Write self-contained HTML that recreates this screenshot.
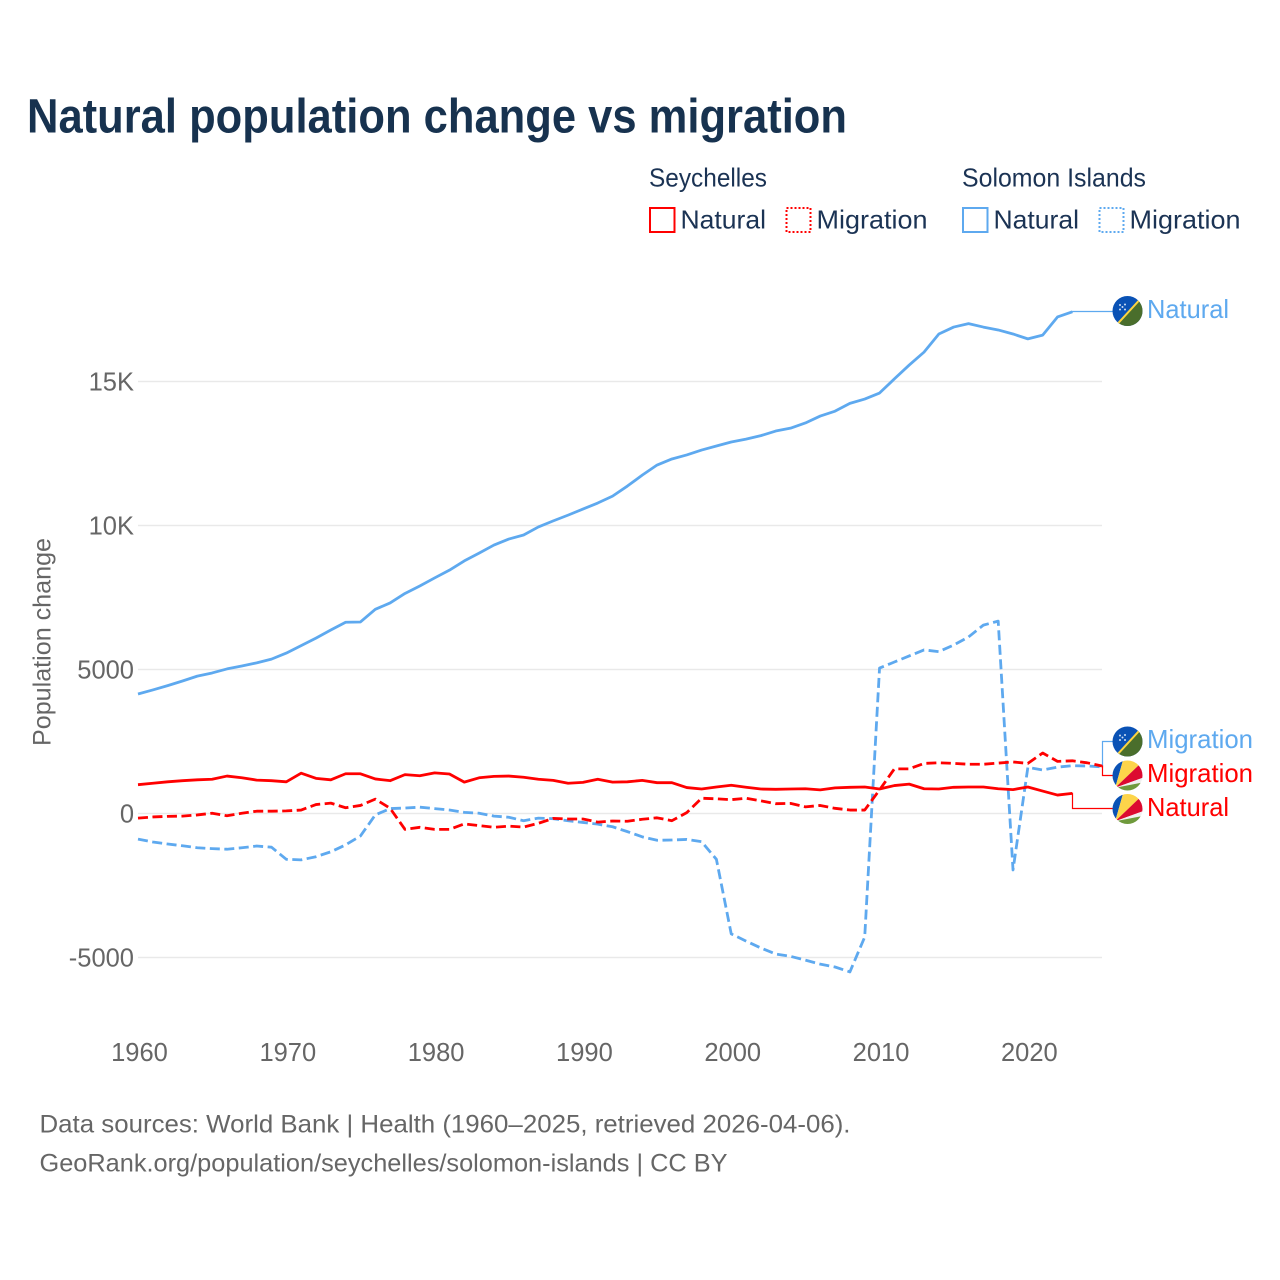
<!DOCTYPE html>
<html lang="en">
<head>
<meta charset="utf-8">
<title>Natural population change vs migration</title>
<style>
html,body{margin:0;padding:0;background:#fff;}
svg{display:block;font-family:"Liberation Sans",sans-serif;}
</style>
</head>
<body>
<svg id="chart" xmlns="http://www.w3.org/2000/svg" width="1280" height="1280" viewBox="0 0 1280 1280">
  <defs>
    <clipPath id="flag-clip-a"><circle cx="0" cy="0" r="15"/></clipPath>
  </defs>
  <text x="27" y="132.5" font-size="48" font-weight="700" fill="#17324f" textLength="820" lengthAdjust="spacingAndGlyphs">Natural population change vs migration</text>

  <g font-size="26" fill="#1b3354">
    <text x="649" y="186.5" textLength="118" lengthAdjust="spacingAndGlyphs">Seychelles</text>
    <text x="962" y="186.5" textLength="184" lengthAdjust="spacingAndGlyphs">Solomon Islands</text>
    <g>
      <rect x="650" y="208" width="24.5" height="24" fill="none" stroke="#ff0000" stroke-width="2"/>
      <text x="680.5" y="228.5" textLength="85.5" lengthAdjust="spacingAndGlyphs">Natural</text>
    </g>
    <g>
      <rect x="786.5" y="208" width="24" height="24" fill="none" stroke="#ff0000" stroke-width="2" stroke-dasharray="2 2"/>
      <text x="816.5" y="228.5" textLength="111" lengthAdjust="spacingAndGlyphs">Migration</text>
    </g>
    <g>
      <rect x="963" y="208" width="24.5" height="24" fill="none" stroke="#5ea9ef" stroke-width="2"/>
      <text x="993.5" y="228.5" textLength="85.5" lengthAdjust="spacingAndGlyphs">Natural</text>
    </g>
    <g>
      <rect x="1099.5" y="208" width="24" height="24" fill="none" stroke="#5ea9ef" stroke-width="2" stroke-dasharray="2 2"/>
      <text x="1129.5" y="228.5" textLength="111" lengthAdjust="spacingAndGlyphs">Migration</text>
    </g>
  </g>

  <g id="grid"></g>
  <g id="y-axis"></g>
  <g id="x-axis"></g>
  <text transform="translate(50.5 746) rotate(-90)" font-size="25" fill="#666666" textLength="208" lengthAdjust="spacingAndGlyphs">Population change</text>

  <g id="connectors"></g>
  <g id="series"></g>
  <g id="end-labels"></g>

  <g font-size="25" fill="#666666">
    <text x="39.5" y="1132.5" textLength="811" lengthAdjust="spacingAndGlyphs">Data sources: World Bank | Health (1960–2025, retrieved 2026-04-06).</text>
    <text x="39.5" y="1171.5" textLength="688" lengthAdjust="spacingAndGlyphs">GeoRank.org/population/seychelles/solomon-islands | CC BY</text>
  </g>
</svg>
<script>
const startYear = 1960;
const yTicks = [15000, 10000, 5000, 0, -5000];
const yTickLabels = ["15K", "10K", "5000", "0", "-5000"];
const xTicks = [1960, 1970, 1980, 1990, 2000, 2010, 2020];
const xTickLabels = ["1960", "1970", "1980", "1990", "2000", "2010", "2020"];

const solomonNatural = [4150,4290,4440,4600,4770,4880,5020,5120,5230,5360,5570,5830,6090,6370,6640,6650,7090,7310,7640,7900,8180,8450,8770,9040,9320,9530,9670,9950,10160,10360,10570,10780,11020,11370,11750,12100,12310,12450,12620,12760,12900,13000,13120,13280,13380,13560,13800,13970,14240,14390,14600,15090,15570,16020,16650,16890,17010,16890,16790,16650,16480,16610,17240,17420];
const solomonMigration = [-890,-990,-1060,-1120,-1190,-1220,-1240,-1190,-1130,-1170,-1590,-1610,-1500,-1330,-1090,-780,-50,170,190,220,170,120,40,10,-90,-130,-250,-160,-180,-250,-310,-370,-460,-630,-810,-930,-920,-900,-980,-1590,-4180,-4430,-4670,-4880,-4960,-5090,-5230,-5330,-5500,-4290,5050,5260,5470,5680,5620,5850,6130,6540,6680,-1960,1600,1510,1610,1660,1650,1620];
const seychellesNatural = [1000,1050,1100,1140,1170,1190,1300,1240,1160,1140,1100,1400,1220,1170,1380,1380,1200,1140,1350,1310,1410,1370,1090,1240,1290,1300,1260,1190,1150,1050,1080,1190,1090,1100,1150,1070,1070,900,850,920,980,910,850,840,850,860,820,890,910,920,850,970,1020,860,850,910,920,920,860,830,920,780,640,700];
const seychellesMigration = [-160,-120,-100,-90,-50,10,-80,10,80,80,90,120,310,360,200,280,500,180,-550,-480,-550,-550,-360,-420,-480,-440,-470,-340,-170,-190,-190,-300,-260,-270,-200,-150,-250,30,530,510,480,530,440,340,350,230,280,180,120,120,820,1550,1550,1740,1760,1740,1710,1710,1750,1790,1740,2100,1810,1830,1760,1650];

const NS = "http://www.w3.org/2000/svg";
const BLUE = "#5ea9ef";
const RED = "#ff0000";
const plotLeft = 138;
const plotRight = 1102;
const xAxisEndYear = 2025;

function xScale(year) {
  return plotLeft + (year - startYear) * (plotRight - plotLeft) / (xAxisEndYear - startYear);
}
function yScale(value) {
  return 813.5 - value * 0.0288;
}
function make(tag, attrs, parent) {
  const el = document.createElementNS(NS, tag);
  Object.keys(attrs).forEach(function (k) { el.setAttribute(k, attrs[k]); });
  parent.appendChild(el);
  return el;
}
function pointsOf(values) {
  return values.map(function (v, i) {
    return xScale(startYear + i).toFixed(2) + "," + yScale(v).toFixed(2);
  }).join(" ");
}

const gridGroup = document.getElementById("grid");
const yAxisGroup = document.getElementById("y-axis");
yTicks.forEach(function (tick, i) {
  const line = make("line", {x1: plotLeft, x2: plotRight, y1: yScale(tick), y2: yScale(tick), stroke: "#e9e9e9", "stroke-width": 1.5}, gridGroup);
  
  
  const label = make("text", {x: 134, y: yScale(tick) + 9, "text-anchor": "end", "font-size": 25.5, fill: "#666666"}, yAxisGroup);
  
  
  label.textContent = yTickLabels[i];
});

const xAxisGroup = document.getElementById("x-axis");
xTicks.forEach(function (tick, i) {
  const label = make("text", {x: xScale(tick) + 1.5, y: 1061, "text-anchor": "middle", "font-size": 25.5, fill: "#666666"}, xAxisGroup);
  
  
  label.textContent = xTickLabels[i];
});

const seriesGroup = document.getElementById("series");
function drawSeries(values, color, dashed, name) {
  const line = make("polyline", {points: pointsOf(values), fill: "none", stroke: color, "stroke-width": 2.8, "stroke-linejoin": "round"}, seriesGroup);
  if (dashed) { line.setAttribute("stroke-dasharray", "10 4.5"); }
  
  
}
drawSeries(solomonNatural, BLUE, false, "line-solomon-natural");
drawSeries(solomonMigration, BLUE, true, "line-solomon-migration");
drawSeries(seychellesNatural, RED, false, "line-seychelles-natural");
drawSeries(seychellesMigration, RED, true, "line-seychelles-migration");

function lastPoint(values) {
  const i = values.length - 1;
  return [xScale(startYear + i), yScale(values[i])];
}
const connectorGroup = document.getElementById("connectors");
function drawConnector(values, elbowX, labelY, color, name) {
  const p = lastPoint(values);
  const line = make("polyline", {points: p[0] + "," + p[1] + " " + elbowX + "," + p[1] + " " + elbowX + "," + labelY + " 1113," + labelY, fill: "none", stroke: color, "stroke-width": 1.2}, connectorGroup);
  
  
}
drawConnector(solomonNatural, 1072.5, 311.5, BLUE, "connector-solomon-natural");
drawConnector(solomonMigration, 1102.5, 741.5, BLUE, "connector-solomon-migration");
drawConnector(seychellesMigration, 1102.5, 775.5, RED, "connector-seychelles-migration");
drawConnector(seychellesNatural, 1072.5, 808.5, RED, "connector-seychelles-natural");

const labelsGroup = document.getElementById("end-labels");
function solomonFlag(cy) {
  const g = make("g", {transform: "translate(1127.5 " + cy + ")", "clip-path": "url(#flag-clip-a)"}, labelsGroup);
  
  
  make("rect", {x: -16, y: -16, width: 32, height: 32, fill: "#0a52b5"}, g);
  make("polygon", {points: "18,-17.6 18,22 -18,21.6", fill: "#4a6e2c"}, g);
  make("line", {x1: -18, y1: 21.6, x2: 18, y2: -17.6, stroke: "#fcd440", "stroke-width": 2}, g);
  [[-7.5, -6], [-2.5, -6.5], [-5, -4], [-7.5, -1.5], [-2.5, -1.5]].forEach(function (s) {
    make("circle", {cx: s[0], cy: s[1], r: 1, fill: "#cfe0f3"}, g);
  });
}
function seychellesFlag(cy) {
  const g = make("g", {transform: "translate(1127.5 " + cy + ")", "clip-path": "url(#flag-clip-a)"}, labelsGroup);
  
  
  make("polygon", {points: "-12.3,12.3 -3.7,-18 -20,-20 -20,12.3", fill: "#0a52b5"}, g);
  make("polygon", {points: "-12.3,12.3 -3.7,-18 20,-18.7", fill: "#fdd44a"}, g);
  make("polygon", {points: "-12.3,12.3 20,-18.7 20,0.5", fill: "#dc0a30"}, g);
  make("polygon", {points: "-12.3,12.3 20,0.5 20,6", fill: "#f0f0f0"}, g);
  make("polygon", {points: "-12.3,12.3 20,6 20,20 -20,20 -20,12.3", fill: "#6f9a3c"}, g);
}
function endLabel(text, baseline, width, color, name) {
  const t = make("text", {x: 1147, y: baseline, "font-size": 26, fill: color, textLength: width, lengthAdjust: "spacingAndGlyphs"}, labelsGroup);
  
  
  t.textContent = text;
}
solomonFlag(311);
endLabel("Natural", 318, 82, BLUE, "end-label-solomon-natural");
solomonFlag(741.5);
endLabel("Migration", 748, 106, BLUE, "end-label-solomon-migration");
seychellesFlag(775.5);
endLabel("Migration", 782, 106, RED, "end-label-seychelles-migration");
seychellesFlag(809);
endLabel("Natural", 816, 82, RED, "end-label-seychelles-natural");
</script>
</body>
</html>
